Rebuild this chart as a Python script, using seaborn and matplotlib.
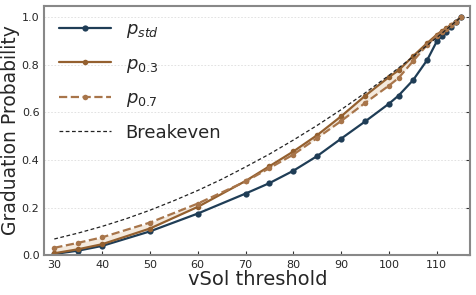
import matplotlib
matplotlib.use('Agg')
import matplotlib.pyplot as plt
import numpy
import pandas
import seaborn

# values
vsol = [30, 35, 40, 50, 60, 70, 75, 80, 85, 90, 95, 100, 102, 105, 108, 110, 111, 112, 113, 114, 115]
p_std = [0.005, 0.019, 0.039, 0.100, 0.175, 0.259, 0.303, 0.355, 0.417, 0.490, 0.562, 0.637, 0.671, 0.735, 0.821, 0.899, 0.920, 0.940, 0.960, 0.980, 1.000]
p_03 = [0.008, 0.025, 0.046, 0.112, 0.203, 0.312, 0.374, 0.436, 0.505, 0.584, 0.670, 0.749, 0.777, 0.836, 0.892, 0.927, 0.942, 0.955, 0.968, 0.982, 1.000]
p_07 = [0.031, 0.052, 0.075, 0.137, 0.217, 0.310, 0.366, 0.423, 0.493, 0.564, 0.640, 0.713, 0.745, 0.815, 0.885, 0.922, 0.938, 0.952, 0.966, 0.981, 1.000]

be_x = [30, 35, 40, 45, 50, 55, 60, 65, 70, 75, 80, 85, 90, 95, 100, 105, 110, 115]
breakeven = [0.068, 0.093, 0.121, 0.153, 0.189, 0.229, 0.272, 0.319, 0.371, 0.425, 0.484, 0.546, 0.612, 0.682, 0.756, 0.834, 0.915, 1.000]

seaborn.set_style('white')

data = pandas.DataFrame({'vsol': vsol, 'std': p_std, 'p03': p_03, 'p07': p_07})
be = pandas.DataFrame({'vsol': be_x, 'be': breakeven})

fig, ax = plt.subplots(figsize = (4.76, 2.95), dpi = 100)

ax.fill_between(data['vsol'], data['p03'], data['p07'], color = '#f1e4d4', alpha = 0.75, lw = 0)
seaborn.lineplot(data = data, x = 'vsol', y = 'std', ax = ax, color = '#1f3d56', lw = 1.6,
                 marker = 'o', markersize = 4.5, markeredgewidth = 0, label = r'$p_{std}$')
seaborn.lineplot(data = data, x = 'vsol', y = 'p03', ax = ax, color = '#94602f', lw = 1.6,
                 marker = 'o', markersize = 4, markeredgewidth = 0, label = r'$p_{0.3}$')
seaborn.lineplot(data = data, x = 'vsol', y = 'p07', ax = ax, color = '#a8754a', lw = 1.6,
                 marker = 'o', markersize = 4, markeredgewidth = 0, linestyle = '--', label = r'$p_{0.7}$')
seaborn.lineplot(data = be, x = 'vsol', y = 'be', ax = ax, color = '#222222', lw = 0.9,
                 linestyle = (0, (3, 2)), label = 'Breakeven')

ax.set_xlim(27.9, 117)
ax.set_ylim(0, 1.048)
ax.set_xticks(range(30, 120, 10))
ax.set_yticks([0.0, 0.2, 0.4, 0.6, 0.8, 1.0])
ax.tick_params(axis = 'both', direction = 'in', labelsize = 8, length = 3, width = 0.8, color = '#333333')
ax.tick_params(axis = 'y', left = False, right = True)
ax.tick_params(axis = 'x', bottom = True)
ax.grid(axis = 'y', linestyle = (0, (2, 2)), color = '#dddddd', lw = 0.6)
for s in ax.spines.values():
    s.set_color('#888888')
    s.set_linewidth(1.5)

ax.set_xlabel('vSol threshold', fontsize = 14, labelpad = 0)
ax.set_ylabel('Graduation Probability', fontsize = 13.5, labelpad = 1)
ax.legend(loc = 'upper left', frameon = False, fontsize = 13, handlelength = 2.9,
          labelspacing = 0.8, borderaxespad = 0.4)

plt.subplots_adjust(left = 0.093, right = 0.988, top = 0.98, bottom = 0.135)
plt.savefig('out.png', dpi = 100)
